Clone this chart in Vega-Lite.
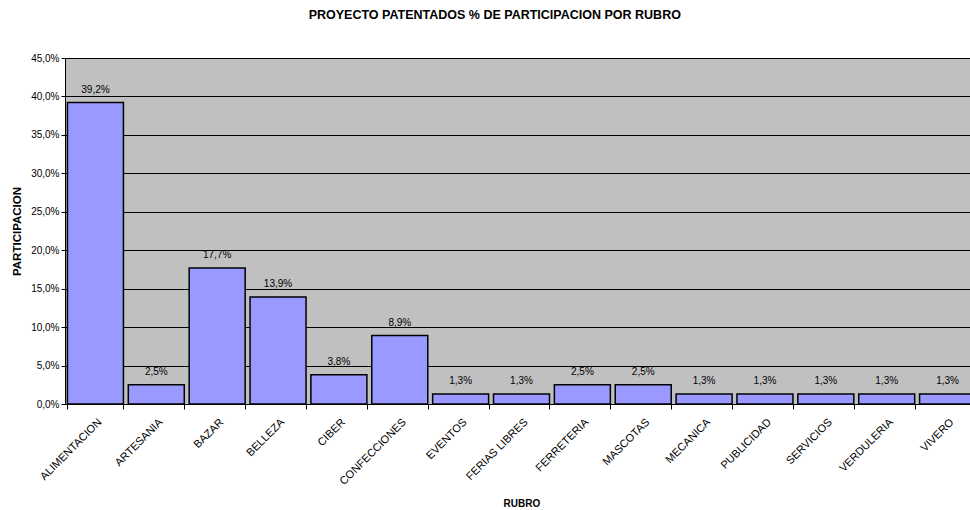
{
  "$schema": "https://vega.github.io/schema/vega-lite/v6.json",
  "autosize": {"type": "none"},
  "padding": {"left": 65, "top": 58, "right": 0, "bottom": 106},
  "width": 913,
  "height": 346,
  "background": "white",
  "title": {
    "text": "PROYECTO PATENTADOS % DE PARTICIPACION POR RUBRO",
    "font": "Liberation Sans",
    "fontSize": 12.5,
    "fontWeight": "bold",
    "color": "black",
    "anchor": "start",
    "dx": 297,
    "offset": 32
  },
  "config": {
    "view": {"fill": "#C0C0C0", "stroke": "black", "strokeWidth": 1},
    "font": "Liberation Sans"
  },
  "data": {
    "values": [
      {"rubro": "ALIMENTACION", "pct": 39.2},
      {"rubro": "ARTESANIA", "pct": 2.5},
      {"rubro": "BAZAR", "pct": 17.7},
      {"rubro": "BELLEZA", "pct": 13.9},
      {"rubro": "CIBER", "pct": 3.8},
      {"rubro": "CONFECCIONES", "pct": 8.9},
      {"rubro": "EVENTOS", "pct": 1.3},
      {"rubro": "FERIAS LIBRES", "pct": 1.3},
      {"rubro": "FERRETERIA", "pct": 2.5},
      {"rubro": "MASCOTAS", "pct": 2.5},
      {"rubro": "MECANICA", "pct": 1.3},
      {"rubro": "PUBLICIDAD", "pct": 1.3},
      {"rubro": "SERVICIOS", "pct": 1.3},
      {"rubro": "VERDULERIA", "pct": 1.3},
      {"rubro": "VIVERO", "pct": 1.3}
    ]
  },
  "encoding": {
    "x": {
      "field": "rubro",
      "type": "nominal",
      "sort": null,
      "scale": {"paddingInner": 0.08, "paddingOuter": 0.04},
      "axis": {
        "title": "RUBRO",
        "titleFont": "Liberation Sans",
        "titleFontSize": 10,
        "titleFontWeight": "bold",
        "titleColor": "black",
        "titleAnchor": "start",
        "titleAlign": "left",
        "titleBaseline": "middle",
        "titleX": 438,
        "titleY": 99,
        "labelAngle": -45,
        "labelAlign": "right",
        "labelBaseline": "top",
        "labelFontSize": 11,
        "labelColor": "black",
        "labelFont": "Liberation Sans",
        "labelPadding": 7,
        "domainColor": "black",
        "tickColor": "black",
        "tickSize": 5,
        "tickBand": "extent",
        "grid": false
      }
    },
    "y": {
      "field": "pct",
      "type": "quantitative",
      "scale": {"domain": [0, 45], "nice": false},
      "axis": {
        "title": "PARTICIPACION",
        "titleFont": "Liberation Sans",
        "titleFontSize": 11.5,
        "titleFontWeight": "bold",
        "titleColor": "black",
        "titlePadding": 8,
        "values": [0, 5, 10, 15, 20, 25, 30, 35, 40, 45],
        "labelExpr": "replace(format(datum.value, '.1f'), '.', ',') + '%'",
        "labelFontSize": 10,
        "labelColor": "black",
        "labelFont": "Liberation Sans",
        "domainColor": "black",
        "tickColor": "black",
        "tickSize": 4,
        "gridColor": "black",
        "gridOpacity": 1,
        "gridWidth": 1
      }
    }
  },
  "layer": [
    {
      "mark": {"type": "bar", "fill": "#9999FF", "stroke": "black", "strokeWidth": 1.5}
    },
    {
      "mark": {"type": "text", "dy": -13, "fontSize": 10, "color": "black", "font": "Liberation Sans"},
      "encoding": {
        "text": {"field": "pct_label", "type": "nominal"}
      },
      "transform": [
        {"calculate": "replace(format(datum.pct, '.1f'), '.', ',') + '%'", "as": "pct_label"}
      ]
    }
  ]
}
